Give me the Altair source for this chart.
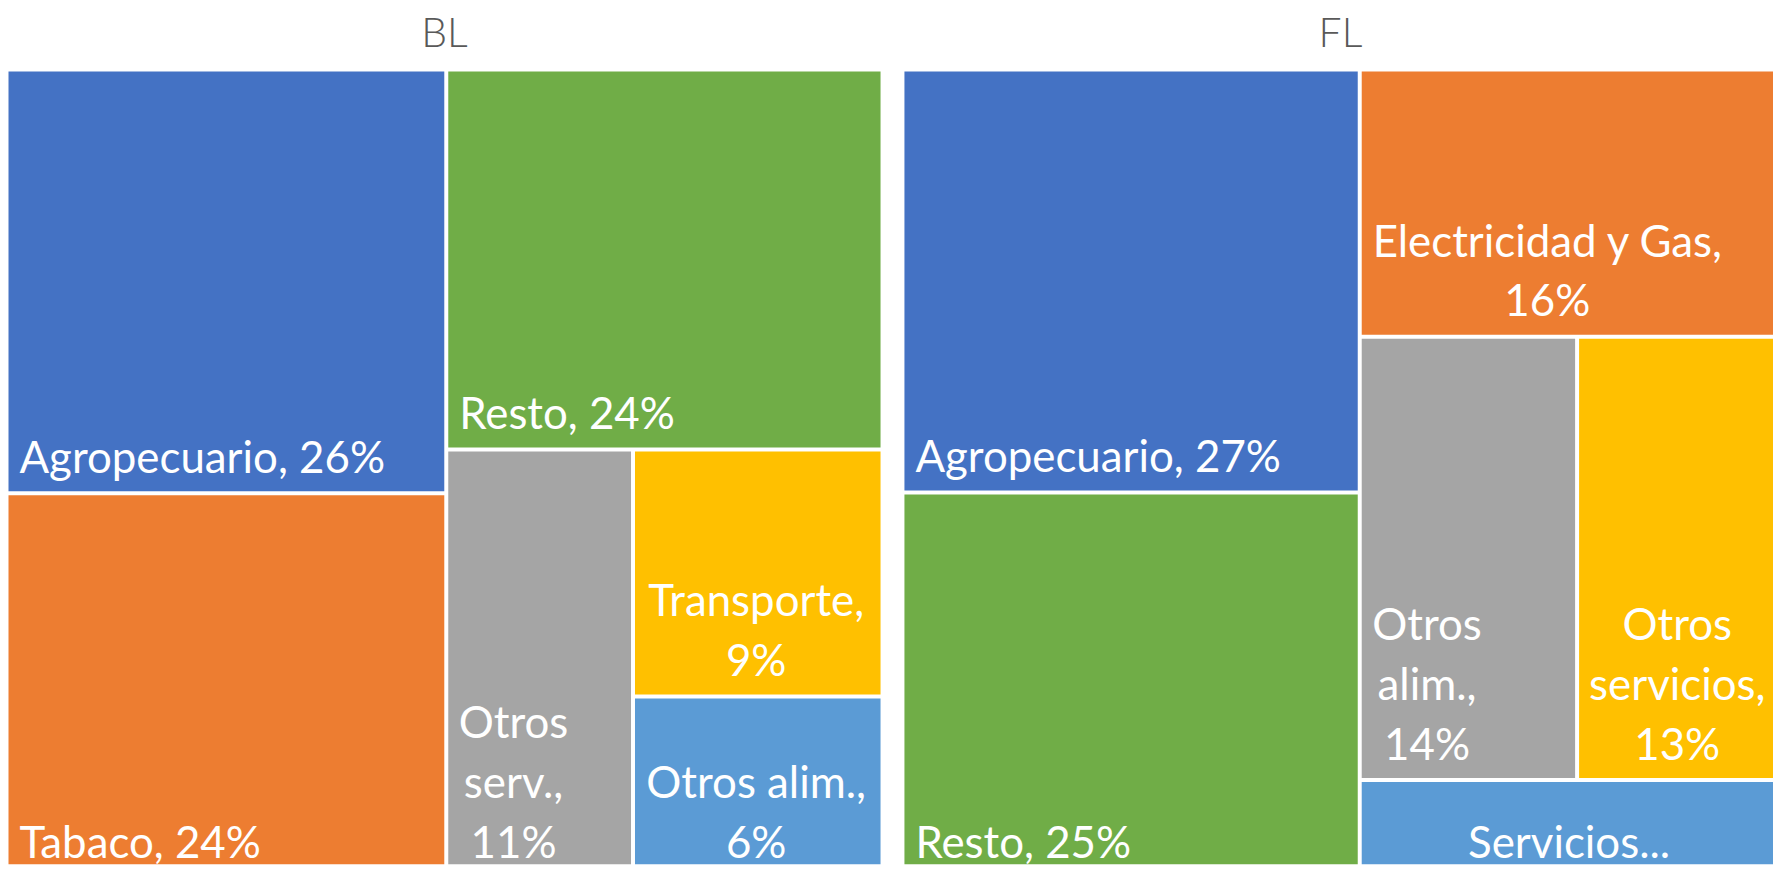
import altair as alt
import pandas as pd

# ---------------- data ----------------
bl_title = "BL"
bl_names = ["Agropecuario", "Tabaco", "Resto", "Otros serv.", "Transporte", "Otros alim."]
bl_values = [26.3, 23.9, 23.4, 11.3, 8.7, 6.4]
bl_labels = ["Agropecuario, 26%", "Tabaco, 24%", "Resto, 24%",
             "Otros\nserv.,\n11%", "Transporte,\n9%", "Otros alim.,\n6%"]
bl_colors = ["#4472C4", "#ED7D31", "#70AD47", "#A5A5A5", "#FFC000", "#5B9BD5"]
bl_strips = [2, 1, 1, 1, 1]

fl_title = "FL"
fl_names = ["Agropecuario", "Resto", "Electricidad y Gas", "Otros alim.", "Otros servicios", "Servicios"]
fl_values = [27.3, 24.9, 15.8, 13.6, 12.6, 5.8]
fl_labels = ["Agropecuario, 27%", "Resto, 25%", "Electricidad y Gas,\n16%",
             "Otros\nalim.,\n14%", "Otros\nservicios,\n13%", "Servicios..."]
fl_colors = ["#4472C4", "#70AD47", "#ED7D31", "#A5A5A5", "#FFC000", "#5B9BD5"]
fl_strips = [2, 1, 2, 1]

# ---------------- layout parameters ----------------
W, H = 1772, 858          # drawing area
PANEL_W, PANEL_H = 879.5, 812
PANEL_TOP = 60
PANEL_X = [-1.5, 898]
GAP = 2                   # half of the white gap between cells
PAD = 11
LINE_H = 60
BOTTOM_PAD = 18.5
FONT = "Lato"
LABEL_SIZE = 44
TITLE_SIZE = 41

CHAR_W = {" ": 0.26, ",": 0.23, ".": 0.23, "%": 0.79, "i": 0.24, "l": 0.24, "m": 0.84,
          "r": 0.36, "t": 0.36, "s": 0.43, "c": 0.46, "O": 0.77, "E": 0.55, "G": 0.71,
          "T": 0.58, "A": 0.68, "S": 0.52, "R": 0.62, "a": 0.51, "v": 0.51, "y": 0.51,
          "e": 0.52, "f": 0.32}


def text_width(s):
    return sum(CHAR_W.get(ch, 0.56 if not ch.isdigit() else 0.58) for ch in s) * LABEL_SIZE


def strip_layout(values, strips, x, y, w, h):
    scale = w * h / sum(values)
    rects = []
    i = 0
    for n in strips:
        group = values[i:i + n]
        area = sum(group) * scale
        if w >= h:
            sw = area / h
            yy = y
            for v in group:
                ch = v * scale / sw
                rects.append((x, yy, x + sw, yy + ch))
                yy += ch
            x += sw
            w -= sw
        else:
            sh = area / w
            xx = x
            for v in group:
                cw = v * scale / sh
                rects.append((xx, y, xx + cw, y + sh))
                xx += cw
            y += sh
            h -= sh
        i += n
    return rects


rect_rows, left_rows, center_rows, title_rows = [], [], [], []
panels = [(bl_title, bl_names, bl_values, bl_labels, bl_colors, bl_strips),
          (fl_title, fl_names, fl_values, fl_labels, fl_colors, fl_strips)]

for px, (title, names, values, labels, colors, strips) in zip(PANEL_X, panels):
    title_rows.append({"x": px + PANEL_W / 2, "y": PANEL_TOP - 23, "text": title})
    rects = strip_layout(values, strips, px, PANEL_TOP, PANEL_W, PANEL_H)
    for (x0, y0, x1, y1), name, lab, col in zip(rects, names, labels, colors):
        x0, y0, x1, y1 = x0 + GAP, y0 + GAP, x1 - GAP, y1 - GAP
        rect_rows.append({"x": x0, "x2": x1, "y": y0, "y2": y1, "color": col, "name": name})
        lines = lab.split("\n")
        n = len(lines)
        last = y1 - BOTTOM_PAD
        if lab.endswith("..."):
            cx = (x0 + x1) / 2
            for k, ln in enumerate(lines):
                center_rows.append({"x": cx, "y": last - (n - 1 - k) * LINE_H, "text": ln})
        elif n == 1:
            left_rows.append({"x": x0 + PAD, "y": last, "text": lab})
        else:
            bw = max(text_width(ln) for ln in lines)
            cx = x0 + PAD + bw / 2
            for k, ln in enumerate(lines):
                center_rows.append({"x": cx, "y": last - (n - 1 - k) * LINE_H, "text": ln})

rect_df = pd.DataFrame(rect_rows)
left_df = pd.DataFrame(left_rows)
center_df = pd.DataFrame(center_rows)
title_df = pd.DataFrame(title_rows)

xs = alt.Scale(domain=[0, W], nice=False, zero=False)
ys = alt.Scale(domain=[0, H], nice=False, zero=False, reverse=True)

rects = alt.Chart(rect_df).mark_rect(clip=True).encode(
    x=alt.X("x:Q", scale=xs, axis=None),
    x2="x2:Q",
    y=alt.Y("y:Q", scale=ys, axis=None),
    y2="y2:Q",
    color=alt.Color("color:N", scale=None),
    tooltip=["name:N"],
)

text_left = alt.Chart(left_df).mark_text(
    align="left", baseline="alphabetic", font=FONT, fontSize=LABEL_SIZE,
    color="#FFFFFF", clip=True
).encode(x=alt.X("x:Q", scale=xs), y=alt.Y("y:Q", scale=ys), text="text:N")

text_center = alt.Chart(center_df).mark_text(
    align="center", baseline="alphabetic", font=FONT, fontSize=LABEL_SIZE,
    color="#FFFFFF", clip=True
).encode(x=alt.X("x:Q", scale=xs), y=alt.Y("y:Q", scale=ys), text="text:N")

titles = alt.Chart(title_df).mark_text(
    align="center", baseline="alphabetic", font=FONT, fontSize=TITLE_SIZE,
    fontWeight=300, color="#595959"
).encode(x=alt.X("x:Q", scale=xs), y=alt.Y("y:Q", scale=ys), text="text:N")

chart = alt.layer(rects, text_left, text_center, titles).properties(
    width=W, height=H, padding=0,
    autosize=alt.AutoSizeParams(type="none"),
    background="#FFFFFF",
).configure_view(stroke=None)

chart.save("out.html", embed_options={"renderer": "svg", "actions": False})
